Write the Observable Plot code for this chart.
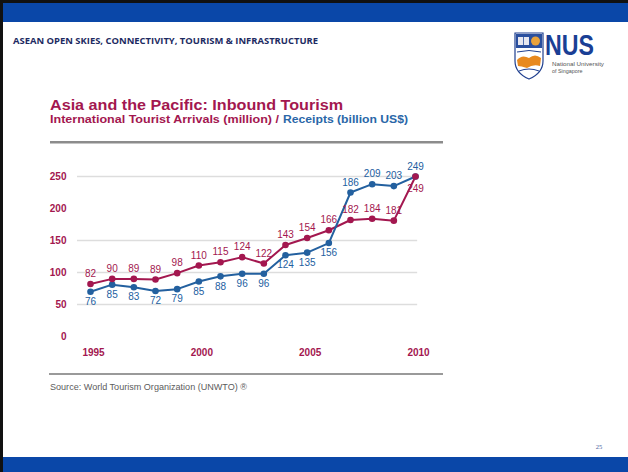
<!DOCTYPE html>
<html>
<head>
<meta charset="utf-8">
<script src="https://cdn.jsdelivr.net/npm/d3@7"></script>
<script src="https://cdn.jsdelivr.net/npm/@observablehq/plot@0.6"></script>
<style>
  html, body { margin: 0; padding: 0; background: #fff; }
  #slide { position: relative; width: 628px; height: 472px; overflow: hidden; background: #fff; font-family: "Liberation Sans", Arial, sans-serif; }
  #deco { position: absolute; left: 0; top: 0; }
  #chart { position: absolute; left: 0; top: 150px; }
</style>
</head>
<body>
<div id="slide">
  <svg id="deco" width="628" height="472" xmlns="http://www.w3.org/2000/svg">
    <!-- slide frame -->
    <rect x="0" y="0" width="628" height="3" fill="#111"/>
    <rect x="0" y="0" width="3" height="472" fill="#111"/>
    <rect x="3" y="3" width="625" height="19" fill="#0a47a8"/>
    <rect x="3" y="457" width="625" height="15" fill="#0a47a8"/>
    <text x="13" y="43.5" font-family="'Open Sans', sans-serif" font-weight="bold" font-size="8.4" fill="#1d2b62" textLength="305" lengthAdjust="spacingAndGlyphs">ASEAN OPEN SKIES, CONNECTIVITY, TOURISM &amp; INFRASTRUCTURE</text>
    <!-- NUS logo -->
    <g>
      <path d="M515,33 L543,33 L543,61 Q543,73 529,79 Q515,73 515,61 Z" fill="#fff" stroke="#1f3f8f" stroke-width="1.2"/>
      <rect x="516" y="34" width="26" height="14" fill="#2a4f9e"/>
      <rect x="518" y="37" width="11" height="8" fill="#e8e8f0"/>
      <line x1="523.5" y1="37" x2="523.5" y2="45" stroke="#2a4f9e" stroke-width="0.8"/>
      <circle cx="535.5" cy="41" r="4.5" fill="#e9a23b"/>
      <path d="M517,60 Q522,54 529,58 Q535,53 541,58 L540,66 Q533,64 527,68 Q521,66 518,66 Z" fill="#e8891e"/>
      <path d="M517,52 Q529,49 541,52" stroke="#1f3f8f" stroke-width="1" fill="none"/>
      <path d="M519,71 Q529,67 539,71" stroke="#1f3f8f" stroke-width="1" fill="none"/>
      <text x="545" y="55" font-family="'Liberation Sans', Arial, sans-serif" font-weight="bold" font-size="29" fill="#1a3f95" textLength="49" lengthAdjust="spacingAndGlyphs">NUS</text>
      <text x="552" y="65.5" font-family="'Liberation Sans', Arial, sans-serif" font-size="5.4" fill="#555" textLength="52" lengthAdjust="spacingAndGlyphs">National University</text>
      <text x="552" y="73" font-family="'Liberation Sans', Arial, sans-serif" font-size="5.4" fill="#555">of Singapore</text>
    </g>
    <!-- chart title block -->
    <text x="50" y="110" font-family="'Liberation Sans', Arial, sans-serif" font-weight="bold" font-size="14.5" fill="#a3174f" textLength="293" lengthAdjust="spacingAndGlyphs">Asia and the Pacific: Inbound Tourism</text>
    <text x="50" y="122.5" font-family="'Liberation Sans', Arial, sans-serif" font-weight="bold" font-size="10" fill="#a3174f" textLength="229" lengthAdjust="spacingAndGlyphs">International Tourist Arrivals (million) /</text>
    <text x="283" y="122.5" font-family="'Liberation Sans', Arial, sans-serif" font-weight="bold" font-size="10" fill="#2a67a8" textLength="125" lengthAdjust="spacingAndGlyphs">Receipts (billion US$)</text>
    <rect x="50" y="141" width="393" height="2.5" fill="#8c8c8c"/>
    <!-- source -->
    <rect x="49" y="373" width="394" height="2" fill="#9a9a9a"/>
    <text x="50" y="389.5" font-family="'Liberation Sans', Arial, sans-serif" font-size="9.5" fill="#5c5c5c" textLength="197" lengthAdjust="spacingAndGlyphs">Source: World Tourism Organization (UNWTO) ®</text>
    <!-- page number -->
    <text x="599" y="449" text-anchor="middle" font-family="'Liberation Serif', serif" font-size="6.5" fill="#4a5f9e">25</text>
  </svg>
  <div id="chart"></div>
</div>
<script>
// ---- data ----
const years = [1995, 1996, 1997, 1998, 1999, 2000, 2001, 2002, 2003, 2004, 2005, 2006, 2007, 2008, 2009, 2010];
// International tourist arrivals (million), as plotted
const arrivals = [82, 90, 90, 89, 99, 111, 116, 124, 114, 143, 154, 166, 182, 184, 181, 250];
const arrivalsLabels = ["82", "90", "89", "89", "98", "110", "115", "124", "122", "143", "154", "166", "182", "184", "181", "249"];
// International tourism receipts (billion US$), as plotted
const receipts = [70, 81, 77, 71, 74, 86, 94, 98, 98, 127, 131, 146, 225, 238, 235, 250];
const receiptsLabels = ["76", "85", "83", "72", "79", "85", "88", "96", "96", "124", "135", "156", "186", "209", "203", "249"];
const yTicks = [0, 50, 100, 150, 200, 250];
const gridValues = [50, 100, 150, 250];
const xTicks = [1995, 2000, 2005, 2010];

const rows = years.map((year, i) => ({
  year,
  arrivals: arrivals[i], arrivalsLabel: arrivalsLabels[i],
  receipts: receipts[i], receiptsLabel: receiptsLabels[i]
}));

const RED = "#a3174f";
const BLUE = "#23609f";

const chart = Plot.plot({
  width: 460,
  height: 220,
  marginTop: 26,
  marginBottom: 34,
  marginLeft: 90,
  marginRight: 45,
  style: { fontFamily: "'Liberation Sans', Arial, sans-serif", background: "transparent" },
  x: { domain: [1995, 2010], label: null },
  y: { domain: [0, 250], label: null },
  marks: [
    Plot.ruleY(gridValues, { x1: 1994.4, x2: 2010.1, stroke: "#dddddd", strokeWidth: 1.6 }),
    Plot.axisY(yTicks, { tickSize: 0, tickPadding: 24, fill: RED, fontWeight: "bold", fontSize: 10, label: null }),
    Plot.axisX(xTicks, { tickSize: 0, tickPadding: 12, dx: 3, fill: RED, fontWeight: "bold", fontSize: 10, tickFormat: d => String(d), label: null }),
    Plot.line(rows, { x: "year", y: "arrivals", stroke: RED, strokeWidth: 2 }),
    Plot.line(rows, { x: "year", y: "receipts", stroke: BLUE, strokeWidth: 2 }),
    Plot.dot(rows, { x: "year", y: "receipts", r: 3.3, fill: BLUE }),
    Plot.dot(rows, { x: "year", y: "arrivals", r: 3.3, fill: RED }),
    Plot.text(rows.filter(d => d.year < 2010), { x: "year", y: "arrivals", text: "arrivalsLabel", dy: -10, fill: RED, fontSize: 10 }),
    Plot.text(rows.filter(d => d.year === 2010), { x: "year", y: "arrivals", text: "arrivalsLabel", dy: 12, fill: RED, fontSize: 10 }),
    Plot.text(rows.filter(d => d.year < 2007), { x: "year", y: "receipts", text: "receiptsLabel", dy: 10, fill: BLUE, fontSize: 10 }),
    Plot.text(rows.filter(d => d.year >= 2007), { x: "year", y: "receipts", text: "receiptsLabel", dy: -10, fill: BLUE, fontSize: 10 })
  ]
});
document.getElementById("chart").appendChild(chart);
</script>
</body>
</html>
